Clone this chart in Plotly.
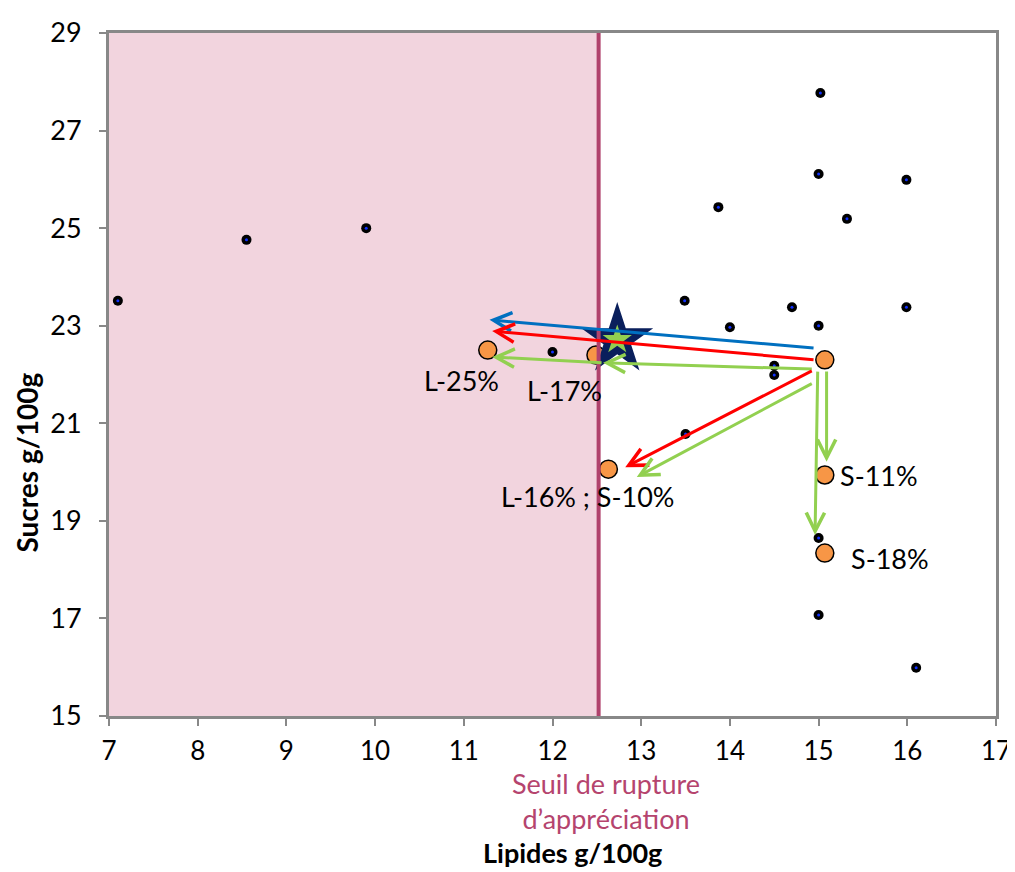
import plotly.graph_objects as go

# Data points (lipides, sucres)
pts_x = [7.10, 8.55, 9.90, 12.0, 13.5, 13.49, 13.87, 14.0, 14.5, 14.5, 14.7, 15.0, 15.0, 15.02, 15.32, 15.99, 15.99, 15.0, 15.0, 16.1]
pts_y = [23.51, 24.76, 25.0, 22.46, 20.78, 23.51, 25.43, 22.97, 22.18, 21.99, 23.38, 23.0, 26.11, 27.77, 25.19, 25.99, 23.38, 18.65, 17.07, 15.99]

# Reformulation scenarios (orange)
sc_x = [15.07, 11.27, 12.49, 12.63, 15.07, 15.07]
sc_y = [22.30, 22.50, 22.40, 20.06, 19.94, 18.34]

# Star (target)
star_x = [12.73]
star_y = [22.71]

# Threshold
seuil = 12.52

# Arrows: (x_tail, y_tail, x_tip, y_tip, color)
arrows = [
    (14.96, 22.54, 11.29, 23.12, "#0070C0"),
    (14.96, 22.30, 11.32, 22.89, "#FF0000"),
    (14.94, 22.11, 12.57, 22.24, "#92D050"),
    (12.57, 22.24, 11.32, 22.36, "#92D050"),
    (14.94, 22.09, 12.82, 20.10, "#FF0000"),
    (14.94, 21.83, 12.95, 19.90, "#92D050"),
    (15.09, 22.09, 15.09, 20.21, "#92D050"),
    (14.99, 22.09, 14.96, 18.71, "#92D050"),
]

labels = [
    (10.97, 21.88, "L-25%", "center"),
    (12.14, 21.68, "L-17%", "center"),
    (12.39, 19.49, "L-16% ; S-10%", "center"),
    (15.22, 19.92, "S-11%", "left"),
    (15.34, 18.22, "S-18%", "left"),
]

x_ticks = list(range(7, 18))
y_ticks = list(range(15, 30, 2))

FONT = "Lato, Carlito, Calibri, sans-serif"

fig = go.Figure()

fig.add_shape(type="rect", x0=7, x1=seuil, y0=15, y1=29, xref="x", yref="y",
              fillcolor="#F2D4DE", line=dict(width=0), layer="below")
fig.add_shape(type="line", x0=seuil, x1=seuil, y0=15, y1=29, xref="x", yref="y",
              line=dict(color="#B0426C", width=4))

fig.add_trace(go.Scatter(x=pts_x, y=pts_y, mode="markers",
                         marker=dict(size=10, color="black", line=dict(width=0)),
                         showlegend=False, hoverinfo="skip"))
fig.add_trace(go.Scatter(x=pts_x, y=pts_y, mode="markers",
                         marker=dict(size=3, color="#1030FF", line=dict(width=0)),
                         showlegend=False, hoverinfo="skip"))
fig.add_trace(go.Scatter(x=sc_x, y=sc_y, mode="markers",
                         marker=dict(size=18, color="#F79646", line=dict(color="black", width=1.5)),
                         showlegend=False, hoverinfo="skip"))
fig.add_trace(go.Scatter(x=star_x, y=star_y, mode="markers",
                         marker=dict(symbol="star", size=54, color="#0A1F5C", line=dict(width=0)),
                         showlegend=False, hoverinfo="skip"))
fig.add_trace(go.Scatter(x=star_x, y=star_y, mode="markers",
                         marker=dict(symbol="star", size=22, color="#92D050", line=dict(width=0)),
                         showlegend=False, hoverinfo="skip"))

for (x0, y0, x1, y1, c) in arrows:
    fig.add_annotation(x=x1, y=y1, ax=x0, ay=y0, xref="x", yref="y", axref="x", ayref="y",
                       text="", showarrow=True, arrowhead=5, arrowsize=1.2, arrowwidth=3,
                       arrowcolor=c, standoff=0, startstandoff=0)

for (x, y, t, al) in labels:
    fig.add_annotation(x=x, y=y, xref="x", yref="y", text=t, showarrow=False,
                       xanchor=al, yanchor="middle", font=dict(family=FONT, size=27, color="black"))

fig.add_annotation(x=12.6, y=-0.125, xref="x", yref="paper", text="Seuil de rupture<br>d’appréciation",
                   showarrow=False, yanchor="middle", font=dict(family=FONT, size=27, color="#B5446E"))
fig.add_annotation(x=12.22, y=-0.2, xref="x", yref="paper", text="<b>Lipides g/100g</b>",
                   showarrow=False, yanchor="middle", font=dict(family=FONT, size=27, color="black"))
fig.add_annotation(x=-0.0925, y=0.371, xref="paper", yref="paper", text="<b>Sucres g/100g</b>",
                   textangle=-90, showarrow=False, xanchor="center", yanchor="middle",
                   font=dict(family=FONT, size=28, color="black"))

fig.update_xaxes(range=[7, 17], tickvals=x_ticks, ticktext=[str(v) for v in x_ticks],
                 showline=True, linecolor="#888888", linewidth=3, mirror=True,
                 ticks="outside", ticklen=7, tickcolor="#888888", tickwidth=2,
                 ticklabelstandoff=3,
                 showgrid=False, zeroline=False,
                 tickfont=dict(family=FONT, size=26, color="black"))
fig.update_yaxes(range=[15, 29], tickvals=y_ticks, ticktext=[str(v) for v in y_ticks],
                 showline=True, linecolor="#888888", linewidth=3, mirror=True,
                 ticks="outside", ticklen=7, tickcolor="#888888", tickwidth=2,
                 ticklabelstandoff=12,
                 showgrid=False, zeroline=False,
                 tickfont=dict(family=FONT, size=27, color="black"))

fig.update_layout(width=1007, height=864, margin=dict(l=101, r=19, t=25, b=156, autoexpand=False),
                  plot_bgcolor="white", paper_bgcolor="white", showlegend=False)

fig.write_html("out.html")
